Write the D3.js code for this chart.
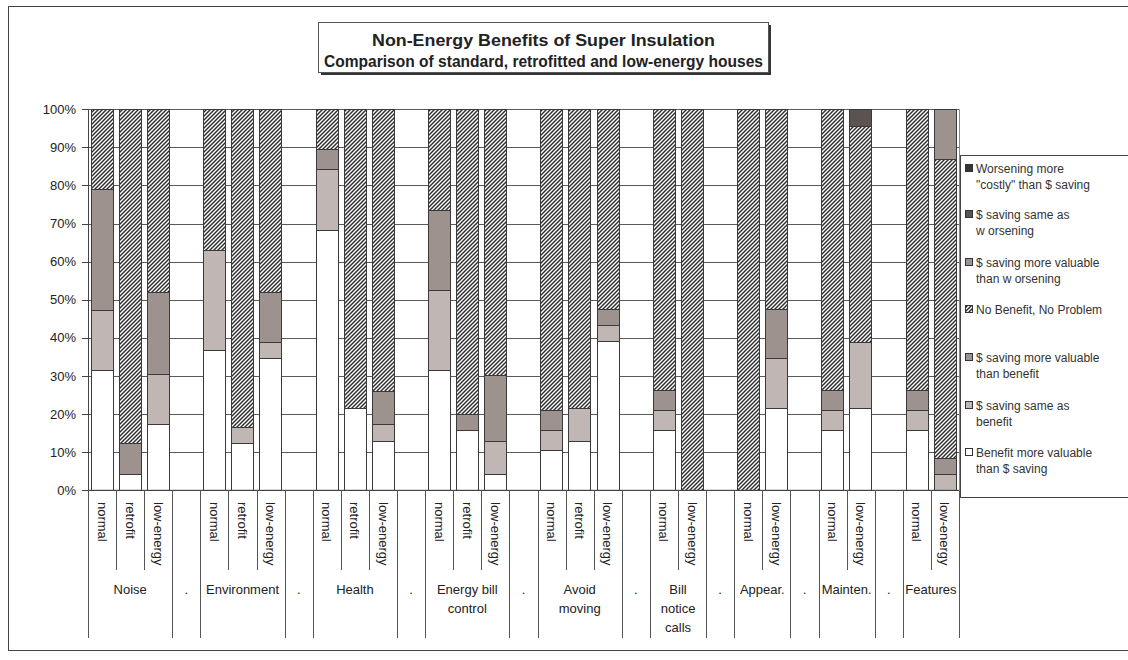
<!DOCTYPE html>
<html>
<head>
<meta charset="utf-8">
<script src="https://cdn.jsdelivr.net/npm/d3@7"></script>
<style>
  html, body { margin: 0; padding: 0; background: #fff; }
  svg { display: block; font-family: "Liberation Sans", Arial, sans-serif; }
</style>
</head>
<body>
<svg id="chart" width="1128" height="660"></svg>
<script>
// Category groups along the x axis ("." groups are empty spacer slots)
const groupLines = [
  ["Noise"], ["."], ["Environment"], ["."], ["Health"], ["."],
  ["Energy bill", "control"], ["."], ["Avoid", "moving"], ["."],
  ["Bill", "notice", "calls"], ["."], ["Appear."], ["."], ["Mainten."], ["."], ["Features"]
];
// Group index of each slot and the house type shown in it
const slotGroup = [0,0,0,1, 2,2,2,3, 4,4,4,5, 6,6,6,7, 8,8,8,9, 10,10,11, 12,12,13, 14,14,15, 16,16];
const slotType = [
  "normal","retrofit","low-energy","",
  "normal","retrofit","low-energy","",
  "normal","retrofit","low-energy","",
  "normal","retrofit","low-energy","",
  "normal","retrofit","low-energy","",
  "normal","low-energy","",
  "normal","low-energy","",
  "normal","low-energy","",
  "normal","low-energy"
];

// Share of answers (%) per slot, stacked bottom to top
const benefitMore   = [31.6,4.3,17.4,0, 36.8,12.4,34.6,0, 68.4,21.7,13.0,0, 31.6,15.8,4.3,0, 10.5,13.0,39.1,0, 15.8,0,0, 0,21.7,0, 15.8,21.7,0, 15.8,0];
const sameBenefit   = [15.8,0,13.0,0, 26.3,4.1,4.4,0, 15.8,0,4.4,0, 21.0,0,8.6,0, 5.3,8.7,4.3,0, 5.3,0,0, 0,13.0,0, 5.3,17.1,0, 5.3,4.3];
const moreBenefit   = [31.6,8.2,21.7,0, 0,0,13.1,0, 5.3,0,8.7,0, 21.1,4.2,17.4,0, 5.2,0,4.3,0, 5.2,0,0, 0,12.9,0, 5.2,0,0, 5.2,4.3];
const noBenefit     = [21.0,87.5,47.9,0, 36.9,83.5,47.9,0, 10.5,78.3,73.9,0, 26.3,80.0,69.7,0, 79.0,78.3,52.3,0, 73.7,100,0, 100,52.4,0, 73.7,56.8,0, 73.7,78.3];
const moreWorsening = [0,0,0,0, 0,0,0,0, 0,0,0,0, 0,0,0,0, 0,0,0,0, 0,0,0, 0,0,0, 0,0,0, 0,13.1];
const sameWorsening = [0,0,0,0, 0,0,0,0, 0,0,0,0, 0,0,0,0, 0,0,0,0, 0,0,0, 0,0,0, 0,4.4,0, 0,0];
const worseCostly   = [0,0,0,0, 0,0,0,0, 0,0,0,0, 0,0,0,0, 0,0,0,0, 0,0,0, 0,0,0, 0,0,0, 0,0];

const seriesNames = [
  "Benefit more valuable than $ saving",
  "$ saving same as benefit",
  "$ saving more valuable than benefit",
  "No Benefit, No Problem",
  "$ saving more valuable than worsening",
  "$ saving same as worsening",
  "Worsening more \"costly\" than $ saving"
];
const legendLines = [
  ["Benefit more valuable", "than $ saving"],
  ["$ saving same as", "benefit"],
  ["$ saving more valuable", "than benefit"],
  ["No Benefit, No Problem"],
  ["$ saving more valuable", "than w orsening"],
  ["$ saving same as", "w orsening"],
  ["Worsening more", "\"costly\" than $ saving"]
];
const seriesValues = [benefitMore, sameBenefit, moreBenefit, noBenefit, moreWorsening, sameWorsening, worseCostly];
const yTicks = [0, 10, 20, 30, 40, 50, 60, 70, 80, 90, 100];
const titleLines = ["Non-Energy Benefits of Super Insulation", "Comparison of standard, retrofitted and low-energy houses"];

const fills = ["#ffffff", "#c0b7b4", "#9e928f", "url(#hatch)", "#9e928f", "#5c5351", "#383434"];

const svg = d3.select("#chart");
const defs = svg.append("defs");
const pat = defs.append("pattern")
  .attr("id", "hatch").attr("patternUnits", "userSpaceOnUse")
  .attr("width", 4).attr("height", 4);
pat.append("rect").attr("width", 4).attr("height", 4).attr("fill", "#fff");
pat.append("path")
  .attr("d", "M-1,1 L1,-1 M0,4 L4,0 M3,5 L5,3")
  .attr("stroke", "#2e2e2e").attr("stroke-width", 1.45);

// Outer chart frame
svg.append("rect").attr("x", 8.5).attr("y", 6.5).attr("width", 1140).attr("height", 644)
  .attr("fill", "#fff").attr("stroke", "#444");

const plot = { left: 88, right: 959, top: 109.3, bottom: 490.3 };
const slots = d3.range(slotType.length);
const x = d3.scaleBand().domain(slots).range([plot.left, plot.right])
  .paddingInner(0.2).paddingOuter(0.1);
const y = d3.scaleLinear().domain([0, 100]).range([plot.bottom, plot.top]);

// Horizontal gridlines
svg.append("g").selectAll("line").data(yTicks).join("line")
  .attr("x1", plot.left).attr("x2", plot.right)
  .attr("y1", d => Math.round(y(d)) + 0.5).attr("y2", d => Math.round(y(d)) + 0.5)
  .attr("stroke", "#5a5a5a").attr("stroke-width", 1);
svg.append("line").attr("x1", plot.right + 0.5).attr("x2", plot.right + 0.5)
  .attr("y1", plot.top).attr("y2", plot.bottom).attr("stroke", "#888");

// Stacked bars
const table = slots.map(i => {
  const row = { slot: i };
  seriesValues.forEach((s, k) => { row[k] = s[i]; });
  return row;
});
const stack = d3.stack().keys(d3.range(seriesValues.length))(table);
stack.forEach((layer, k) => {
  svg.append("g").selectAll("rect")
    .data(layer.filter(d => d[1] - d[0] > 0))
    .join("rect")
    .attr("x", d => Math.round(x(d.data.slot)) + 0.5)
    .attr("width", Math.round(x.bandwidth()))
    .attr("y", d => Math.round(y(d[1])) + 0.5)
    .attr("height", d => Math.round(y(d[0])) - Math.round(y(d[1])))
    .attr("fill", fills[k])
    .attr("stroke", "#3a3a3a").attr("stroke-width", 1);
});

// Value axis
const yAxis = svg.append("g");
yAxis.append("line").attr("x1", plot.left + 0.5).attr("x2", plot.left + 0.5)
  .attr("y1", plot.top).attr("y2", plot.bottom).attr("stroke", "#444");
yAxis.selectAll(".tk").data(yTicks).join("line")
  .attr("x1", plot.left - 6).attr("x2", plot.left)
  .attr("y1", d => Math.round(y(d)) + 0.5).attr("y2", d => Math.round(y(d)) + 0.5)
  .attr("stroke", "#444");
yAxis.selectAll("text").data(yTicks).join("text")
  .attr("x", plot.left - 12).attr("y", d => y(d) + 4.5)
  .attr("text-anchor", "end").attr("font-size", 13).attr("fill", "#222")
  .text(d => d + "%");

// Category axis: slot boundaries, house types, group names
const step = x.step();
const x0 = x.range()[0];
const catAxis = svg.append("g");
catAxis.append("line").attr("x1", plot.left).attr("x2", plot.right)
  .attr("y1", plot.bottom).attr("y2", plot.bottom).attr("stroke", "#444");
const bounds = d3.range(slotType.length + 1);
catAxis.selectAll(".b").data(bounds).join("line")
  .attr("x1", i => Math.round(x0 + i * step) + 0.5).attr("x2", i => Math.round(x0 + i * step) + 0.5)
  .attr("y1", plot.bottom)
  .attr("y2", i => (i === 0 || i === slotType.length || slotGroup[i] !== slotGroup[i - 1]) ? 638 : 570)
  .attr("stroke", "#555");
catAxis.selectAll(".t").data(slots.filter(i => slotType[i])).join("text")
  .attr("transform", i => `translate(${x(i) + x.bandwidth() / 2},502) rotate(90)`)
  .attr("dominant-baseline", "central").attr("font-size", 13).attr("fill", "#222")
  .text(i => slotType[i]);

groupLines.forEach((lines, g) => {
  const members = slots.filter(i => slotGroup[i] === g);
  const cx = x0 + (members[0] + members[members.length - 1] + 1) / 2 * step;
  catAxis.append("text").attr("x", cx).attr("y", 594)
    .attr("text-anchor", "middle").attr("font-size", 13).attr("fill", "#222")
    .selectAll("tspan").data(lines).join("tspan")
    .attr("x", cx).attr("dy", (d, j) => j === 0 ? 0 : 19)
    .text(d => d);
});

// Title box with drop shadow
const title = svg.append("g");
title.append("rect").attr("x", 321).attr("y", 25).attr("width", 450).attr("height", 50).attr("fill", "#333");
title.append("rect").attr("x", 318.5).attr("y", 22.5).attr("width", 450).attr("height", 50)
  .attr("fill", "#fff").attr("stroke", "#555");
const titleWidths = [343, 439];
titleLines.forEach((t, j) => {
  title.append("text").attr("x", 543.5).attr("y", 46 + j * 21).attr("text-anchor", "middle")
    .attr("font-size", 17).attr("font-weight", "bold").attr("fill", "#222")
    .attr("textLength", titleWidths[j]).attr("lengthAdjust", "spacingAndGlyphs")
    .text(t);
});

// Legend (last series on top)
const legend = svg.append("g");
legend.append("rect").attr("x", 960.5).attr("y", 155.5).attr("width", 200).attr("height", 342)
  .attr("fill", "#fff").attr("stroke", "#444");
const itemY = [452, 405, 357, 309, 262, 214, 168];
seriesNames.forEach((name, k) => {
  const g = legend.append("g").attr("transform", `translate(0,${itemY[k]})`);
  g.append("rect").attr("x", 965.5).attr("y", -3.5).attr("width", 7).attr("height", 7)
    .attr("fill", fills[k]).attr("stroke", "#333");
  g.append("text").attr("x", 976).attr("y", 4.5).attr("font-size", 12).attr("fill", "#333")
    .selectAll("tspan").data(legendLines[k]).join("tspan")
    .attr("x", 976).attr("dy", (d, j) => j === 0 ? 0 : 16)
    .text(d => d);
});
</script>
</body>
</html>
